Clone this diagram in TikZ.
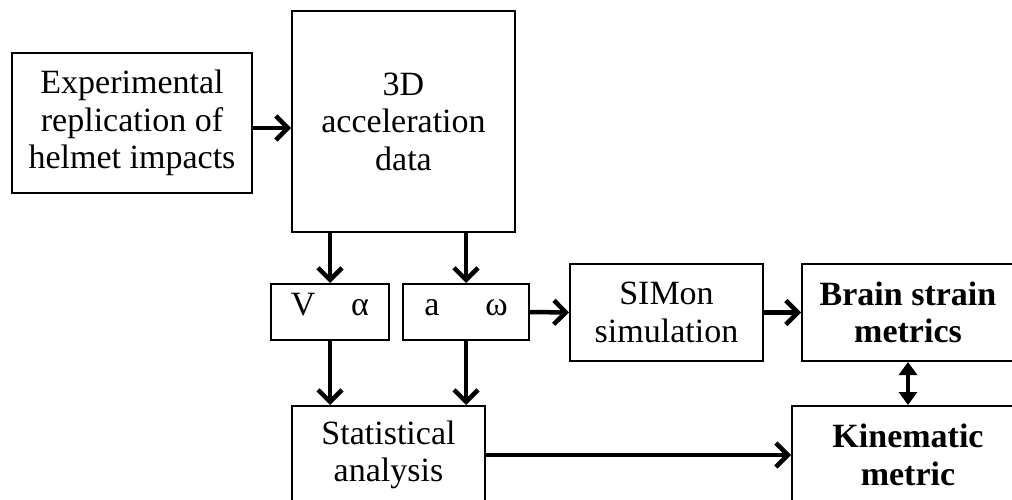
\documentclass[tikz,border=0pt]{standalone}
\usepackage{fontspec}
\setmainfont{Liberation Serif}
\usetikzlibrary{arrows.meta}
\begin{document}
\begin{tikzpicture}[x=1pt,y=-1pt,
  box/.style={draw, line width=2pt, align=center, inner sep=0pt,
    font=\fontsize{34}{37.5}\selectfont},
  pair/.style={draw, line width=2pt, inner sep=0pt, minimum height=56pt,
    text height=0.68em, text depth=0.02em, font=\fontsize{34}{37.5}\selectfont},
  flow/.style={line width=4.5pt, -{Straight Barb[length=12pt,width=24pt]}},
  link/.style={line width=4.5pt, {Triangle[length=13pt,width=18pt]}-{Triangle[length=13pt,width=18pt]}}]
\useasboundingbox (0,0) rectangle (1012,500);
\clip (0,0) rectangle (1012,500);
\fill[white] (0,0) rectangle (1012,500);

% boxes
\node[box, minimum width=240pt, minimum height=140pt] (exp) at (132,123)
  {Experimental\\replication of\\helmet impacts};
\node[box, minimum width=223pt, minimum height=221pt] (acc) at (403.5,121.5)
  {3D\\acceleration\\data};
\node[pair, minimum width=118pt] (va) at (330,312)
  {V\hspace{1.05em}α};
\node[pair, minimum width=126pt] (aw) at (466,312)
  {a\hspace{1.35em}ω};
\node[box, minimum width=193pt, minimum height=98pt] (stats) at (388.5,455)
  {Statistical\\analysis};
\node[box, minimum width=193pt, minimum height=97pt] (sim) at (666.5,312.5)
  {SIMon\\simulation};
\node[box, minimum width=212pt, minimum height=97pt, font=\fontsize{34}{37.5}\selectfont\bfseries] (brain) at (908,312.5)
  {Brain strain\\metrics};
\node[box, minimum width=232pt, minimum height=98pt, font=\fontsize{34}{37.5}\selectfont\bfseries] (kin) at (908,455)
  {Kinematic\\metric};

% connectors
\draw[flow] ([yshift=-5pt]exp.east) -- ([yshift=-5pt]exp.east -| acc.west);
\draw[flow] (acc.south -| va) -- (va.north);
\draw[flow] (acc.south -| aw) -- (aw.north);
\draw[flow] (va.south) -- (va.south |- stats.north);
\draw[flow] (aw.south) -- (aw.south |- stats.north);
\draw[flow] (aw.east) -- (sim.west);
\draw[flow] (sim.east) -- (brain.west);
\draw[flow] (stats.east) -- (kin.west);
\draw[link] (brain.south) -- (kin.north);
\end{tikzpicture}
\end{document}
